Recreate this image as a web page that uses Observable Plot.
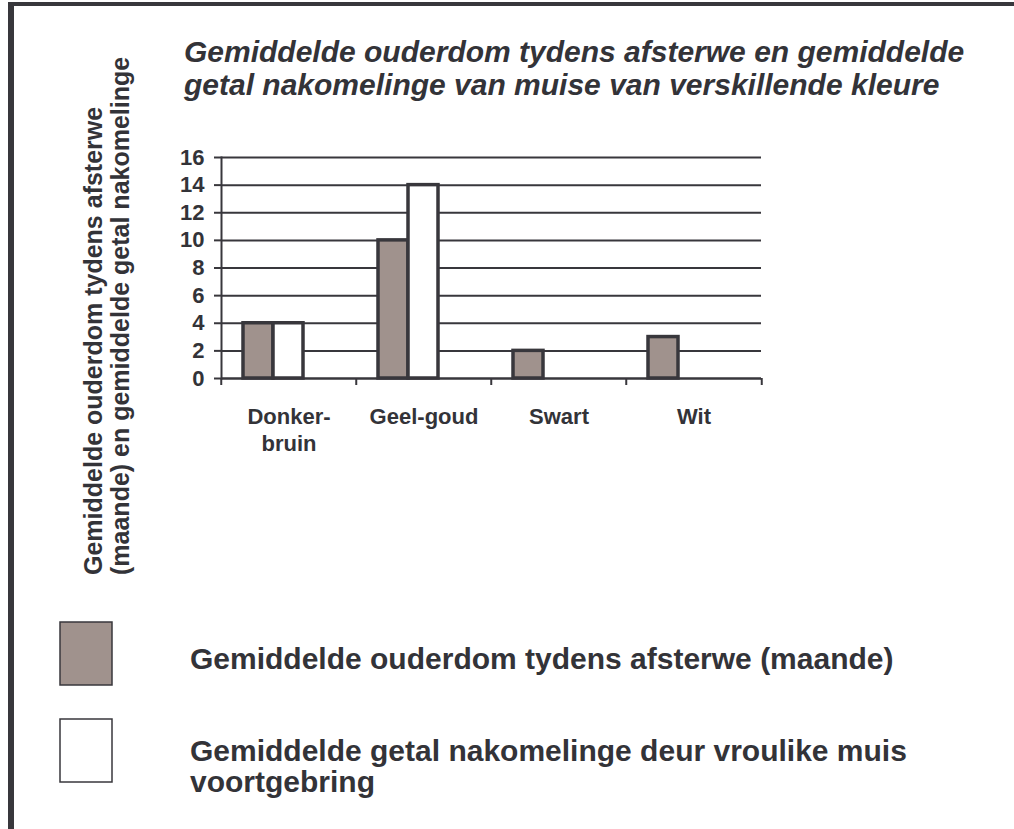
<!DOCTYPE html>
<html><head><meta charset="utf-8">
<script src="https://cdn.jsdelivr.net/npm/d3@7"></script>
<script src="https://cdn.jsdelivr.net/npm/@observablehq/plot@0.6"></script>
<style>
html,body{margin:0;padding:0;background:#fff;}
#page{position:relative;width:1014px;height:829px;overflow:hidden;font-family:"Liberation Sans",Arial,sans-serif;}
#border{position:absolute;left:8px;top:2px;right:-10px;bottom:-10px;border-left:6px solid #38373c;border-top:4px solid #38373c;}
#chart{position:absolute;left:0;top:130px;}
#overlay{position:absolute;left:0;top:0;}
</style></head><body>
<div id="page"><div id="border"></div><div id="chart"></div><svg id="overlay" width="1014" height="829"></svg></div>
<script>
// ---- data ----
const categories = ["Donker-\nbruin", "Geel-goud", "Swart", "Wit"];
const seriesNames = [
  "Gemiddelde ouderdom tydens afsterwe (maande)",
  "Gemiddelde getal nakomelinge deur vroulike muis voortgebring"
];
const ouderdomMaande = [4, 10, 2, 3];
const getalNakomelinge = [4, 14, null, null];
const yTicks = [0, 2, 4, 6, 8, 10, 12, 14, 16];
const titleLines = [
  "Gemiddelde ouderdom tydens afsterwe en gemiddelde",
  "getal nakomelinge van muise van verskillende kleure"
];
const yTitleLines = [
  "Gemiddelde ouderdom tydens afsterwe",
  "(maande) en gemiddelde getal nakomelinge"
];
const legendLines = [
  ["Gemiddelde ouderdom tydens afsterwe (maande)"],
  ["Gemiddelde getal nakomelinge deur vroulike muis", "voortgebring"]
];
const seriesColors = ["#a0928d", "#ffffff"];

// ---- table ----
const rows = [];
categories.forEach((c, i) => {
  [ouderdomMaande, getalNakomelinge].forEach((arr, k) => {
    if (arr[i] != null) rows.push({category: c, series: seriesNames[k], value: arr[i]});
  });
});

const ink = "#38373c";
const W = 1014, H = 340, mL = 220, mR = 252, mT = 27, mB = 92;
const fxStep = (W - mL - mR) / categories.length;

const chart = Plot.plot({
  width: W, height: H,
  marginLeft: mL, marginRight: mR, marginTop: mT, marginBottom: mB,
  style: {fontFamily: '"Liberation Sans", Arial, sans-serif', fontSize: "21px", fontWeight: "bold", color: "#333338", background: "transparent", overflow: "visible"},
  fx: {domain: categories, padding: 0, label: null},
  x: {domain: seriesNames, paddingInner: 0, paddingOuter: 1.22, align: 0.295, axis: null},
  y: {domain: [0, 16], label: null},
  color: {domain: seriesNames, range: seriesColors},
  marks: [
    Plot.gridY(yTicks, {stroke: ink, strokeOpacity: 1, strokeWidth: 2}),
    Plot.barY(rows, {fx: "category", x: "series", y: "value", fill: "series", stroke: ink, strokeWidth: 3.5}),
    Plot.ruleY([0], {stroke: ink, strokeWidth: 2}),
    Plot.frame({anchor: "left", facet: "super", stroke: ink, strokeWidth: 2}),
    Plot.axisY({ticks: yTicks, tickSize: 7, tickPadding: 10, label: null, stroke: ink, strokeWidth: 2, fontSize: 22}),
    Plot.axisFx({anchor: "bottom", tickSize: 0, tickPadding: 27, label: null, lineHeight: 1.2, fontSize: 22}),
    Plot.axisFx({anchor: "bottom", tickSize: 7, tickFormat: () => "", label: null, dx: -fxStep / 2, stroke: ink, strokeWidth: 2}),
    Plot.axisFx({anchor: "bottom", ticks: [categories[categories.length - 1]], tickSize: 7, tickFormat: () => "", label: null, dx: fxStep / 2, stroke: ink, strokeWidth: 2})
  ]
});
document.getElementById("chart").appendChild(chart);

// ---- title, y title, legend ----
const ov = d3.select("#overlay");
const txtCol = "#333338";
ov.selectAll("text.title").data(titleLines).join("text")
  .attr("x", 184).attr("y", (d, i) => 62 + i * 33)
  .attr("font-size", 30).attr("font-weight", "bold").attr("font-style", "italic")
  .attr("fill", txtCol).text(d => d);

ov.selectAll("text.ytitle").data(yTitleLines).join("text")
  .attr("transform", (d, i) => `translate(${102 + i * 27},575) rotate(-90)`)
  .attr("font-size", 25).attr("font-weight", "bold")
  .attr("fill", txtCol).text(d => d);

const legendRectY = [622, 719];
const legendTextY = [669, 761];
seriesNames.forEach((s, k) => {
  ov.append("rect").attr("x", 60).attr("y", legendRectY[k]).attr("width", 52).attr("height", 63)
    .attr("fill", seriesColors[k]).attr("stroke", ink).attr("stroke-width", 1.5);
  legendLines[k].forEach((line, j) => {
    ov.append("text").attr("x", 190).attr("y", legendTextY[k] + j * 31)
      .attr("font-size", 30).attr("font-weight", "bold").attr("fill", txtCol).text(line);
  });
});
</script>
</body></html>
